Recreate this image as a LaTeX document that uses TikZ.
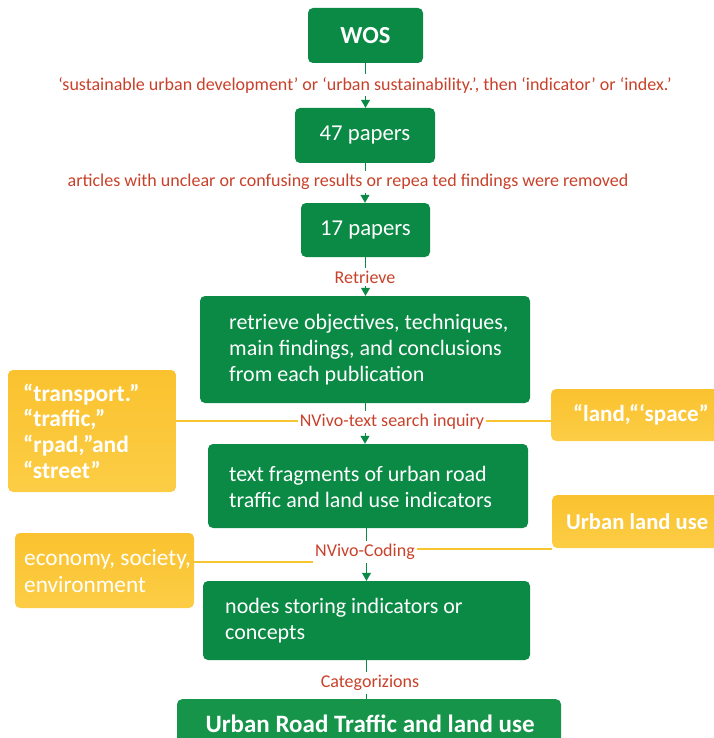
\documentclass[tikz,border=0pt]{standalone}
\usepackage{fontspec}
\setmainfont{Carlito}
\usetikzlibrary{arrows.meta}
\definecolor{gr}{HTML}{0A8A45}
\definecolor{grL}{HTML}{16954A}
\definecolor{ylA}{HTML}{FAC22F}
\definecolor{ylB}{HTML}{FCCD45}
\definecolor{rd}{HTML}{C9412A}
\definecolor{yl}{HTML}{F7C52F}
\begin{document}
\begin{tikzpicture}[x=1pt,y=-1pt,
  gbox/.style={fill=gr, rounded corners=5pt, inner sep=0pt, text=white},
  ybox/.style={top color=ylA, bottom color=ylB, rounded corners=5pt, inner sep=0pt, text=white},
  gtxt/.style={text=white, align=left, inner sep=0pt, anchor=west, font=\fontsize{22}{26}\selectfont},
  ytxt/.style={text=white, align=left, inner sep=0pt, anchor=west, font=\bfseries\fontsize{23.5}{25.7}\selectfont},
  lbl/.style={fill=white, text=rd, font=\fontsize{18}{20}\selectfont, inner xsep=2pt, inner ysep=3pt},
  conn/.style={draw=gr, line width=1pt, -{Triangle[width=9pt,length=8pt]}},
  plain/.style={draw=gr, line width=1pt},
  yline/.style={draw=yl, line width=1.8pt}]
\useasboundingbox (0,0) rectangle (713,738);
% green boxes
\node[gbox, minimum width=115pt, minimum height=55pt, font=\bfseries\fontsize{24.5}{28}\selectfont] (wos) at (365.5,35.5) {WOS};
\node[gbox, minimum width=140pt, minimum height=55pt, font=\fontsize{22.7}{26}\selectfont] (p47) at (365,135.5) {47 papers};
\node[gbox, minimum width=129pt, minimum height=54pt, font=\fontsize{22.7}{26}\selectfont] (p17) at (365.5,230) {17 papers};
\node[gbox, minimum width=330pt, minimum height=107pt] (ret) at (365,349.5) {};
\node[gtxt] (retT) at (229,350) {retrieve objectives, techniques,\\main findings, and conclusions\\from each publication};
\node[gbox, minimum width=320pt, minimum height=84pt] (frag) at (368,486) {};
\node[gtxt] (fragT) at (229,487) {text fragments of urban road\\traffic and land use indicators};
\node[gbox, minimum width=327pt, minimum height=79pt] (nds) at (366.5,620.5) {};
\node[gtxt] (ndsT) at (225,621) {nodes storing indicators or\\concepts};
\node[gbox, fill=grL, minimum width=384pt, minimum height=62pt, anchor=north] (fin) at (369,699) {};
\node[text=white, inner sep=0pt, font=\bfseries\fontsize{25}{28}\selectfont] (finT) at (370,724) {Urban Road Traffic and land use};
% yellow boxes
\node[ybox, minimum width=168pt, minimum height=122pt] (y1) at (92,431) {};
\node[ytxt] (y1T) at (23,431) {“transport.”\\“traffic,”\\“rpad,”and\\“street”};
\node[ybox, minimum width=180pt, minimum height=52pt, anchor=west] (y2) at (551,415) {};
\node[ytxt, anchor=west, font=\bfseries\fontsize{23}{25.7}\selectfont] (y2T) at (573,415) {“land,“‘space”};
\node[ybox, minimum width=180pt, minimum height=53pt, anchor=west] (y3) at (552,521.5) {};
\node[ytxt, anchor=west, font=\bfseries\fontsize{22.6}{25.7}\selectfont] (y3T) at (566,521.5) {Urban land use};
\node[ybox, minimum width=179pt, minimum height=75pt] (y4) at (104.5,570.5) {};
\node[gtxt, font=\fontsize{23.3}{27}\selectfont] (y4T) at (24,571) {economy, society,\\environment};
% connectors
\draw[conn] (wos.south) -- (wos.south |- p47.north);
\draw[conn] (p47.south) -- (p47.south |- p17.north);
\draw[conn] (p17.south) -- (p17.south |- ret.north);
\draw[conn] (ret.south) -- (ret.south |- frag.north);
\draw[conn] (frag.south -| nds.north) -- (nds.north);
\draw[plain] (nds.south) -- (nds.south |- fin.north);
% yellow lines
\coordinate (a1) at (176,421);
\coordinate (a2) at (551,421);
\coordinate (b1) at (194,562);
\coordinate (b2) at (313,562);
\coordinate (c1) at (417,549);
\coordinate (c2) at (552,549);
\draw[yline] (a1) -- (a2);
\draw[yline] (b1) -- (b2);
\draw[yline] (c1) -- (c2);
% labels
\node[lbl] (l1) at (365,85) {‘sustainable urban development’ or ‘urban sustainability.’, then ‘indicator’ or ‘index.’};
\node[lbl] (l2) at (348,182) {articles with unclear or confusing results or repea ted findings were removed};
\node[lbl] (l3) at (365,277) {Retrieve};
\node[lbl] (l4) at (392,422) {NVivo-text search inquiry};
\node[lbl, inner xsep=1pt] (l5) at (365,552) {NVivo-Coding};
\node[lbl] (l6) at (370,683) {Categorizions};
\end{tikzpicture}
\end{document}
